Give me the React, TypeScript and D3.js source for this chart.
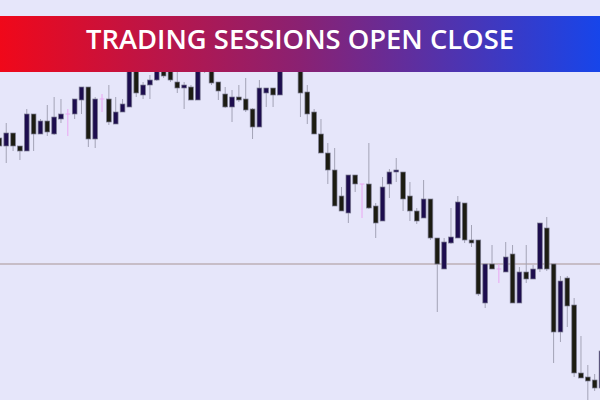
import { useEffect, useRef } from 'react'
import * as d3 from 'd3'

// OHLC values in price points
const opens = [262, 254, 267, 254, 249, 286, 266, 279, 266, 281, 286, 286, 300, 313, 261, 301, 301, 276, 288, 293,
  340, 305, 315, 320, 335, 332, 318, 312, 313, 300, 338, 338, 318, 306, 293, 303, 301, 291, 273, 307,
  312, 305, 340, 356, 338, 308, 288, 266, 247, 230, 204, 187, 225, 216, 216, 194, 179, 216, 228, 228,
  204, 189, 182, 201, 162, 131, 157, 162, 197, 160, 160, 97, 136, 131, 128, 146, 97, 128, 121, 131,
  172, 136, 68, 122, 95, 27, 23, 20, 12]
const highs = [263, 277, 267, 254, 291, 286, 281, 295, 303, 301, 291, 301, 313, 313, 303, 306, 315, 303, 301, 345,
  345, 318, 325, 340, 340, 338, 328, 318, 315, 345, 355, 342, 318, 313, 310, 315, 322, 292, 320, 312,
  312, 345, 358, 362, 345, 315, 291, 281, 257, 252, 213, 225, 225, 216, 257, 197, 223, 231, 242, 228,
  218, 192, 220, 201, 162, 162, 192, 204, 197, 175, 160, 136, 155, 136, 158, 155, 133, 155, 135, 177,
  183, 136, 124, 124, 102, 64, 35, 26, 55]
const lows = [253, 237, 249, 240, 249, 249, 266, 264, 265, 277, 264, 281, 286, 253, 252, 288, 275, 276, 288, 293,
  303, 301, 301, 319, 322, 318, 307, 291, 300, 300, 327, 315, 300, 292, 278, 298, 288, 261, 273, 293,
  293, 305, 334, 336, 283, 276, 266, 247, 216, 194, 189, 177, 208, 182, 191, 162, 179, 202, 218, 189,
  179, 176, 182, 160, 88, 131, 156, 162, 157, 153, 104, 92, 131, 117, 128, 97, 97, 117, 121, 128,
  129, 37, 58, 73, 23, 22, -4, 9, 10]
const closes = [254, 267, 254, 249, 286, 266, 279, 268, 283, 286, 286, 301, 313, 261, 301, 301, 278, 288, 296, 338,
  307, 315, 320, 334, 324, 320, 312, 315, 300, 340, 350, 317, 309, 293, 303, 300, 290, 273, 312, 312,
  305, 340, 352, 342, 307, 286, 266, 247, 230, 194, 189, 225, 216, 216, 192, 177, 213, 228, 230, 201,
  189, 179, 201, 162, 136, 158, 163, 198, 160, 157, 106, 136, 131, 131, 143, 97, 128, 121, 131, 177,
  131, 68, 119, 94, 27, 22, 19, 12, 49]
const levelPrice = 136
const title = 'TRADING SESSIONS OPEN CLOSE'

export default function App() {
  const svgRef = useRef<SVGSVGElement>(null)

  useEffect(() => {
    if (!svgRef.current) return
    const width = 600
    const height = 400

    const svg = d3.select(svgRef.current)
    svg.selectAll('*').remove()
    svg.attr('width', width).attr('height', height)

    svg.append('rect')
      .attr('width', width)
      .attr('height', height)
      .attr('fill', '#e6e6fa')

    const x = d3.scaleLinear().domain([0, opens.length - 1]).range([-0.6, 601.5])
    const y = d3.scaleLinear().domain([0, 400]).range([400, 0])
    const bodyW = 4.7

    // horizontal level line
    svg.append('line')
      .attr('x1', 0).attr('x2', width)
      .attr('y1', y(levelPrice)).attr('y2', y(levelPrice))
      .attr('stroke', '#a89494')
      .attr('stroke-width', 1)

    const g = svg.append('g')
    opens.forEach((o, i) => {
      const c = closes[i]
      const cx = x(i)
      const doji = o === c
      const bull = c > o

      g.append('line')
        .attr('x1', cx).attr('x2', cx)
        .attr('y1', y(highs[i])).attr('y2', y(lows[i]))
        .attr('stroke', doji ? '#eaa6f2' : '#a3a3b6')
        .attr('stroke-width', 1)

      if (doji) {
        g.append('line')
          .attr('x1', cx - bodyW / 2).attr('x2', cx + bodyW / 2)
          .attr('y1', y(o)).attr('y2', y(o))
          .attr('stroke', '#eaa6f2')
          .attr('stroke-width', 1)
        return
      }

      g.append('rect')
        .attr('x', cx - bodyW / 2)
        .attr('y', y(Math.max(o, c)))
        .attr('width', bodyW)
        .attr('height', Math.abs(y(o) - y(c)))
        .attr('fill', bull ? '#1d0d4e' : '#1c1c12')
        .attr('stroke', '#7c7c92')
        .attr('stroke-width', 0.7)
    })

    // title banner
    const defs = svg.append('defs')
    const grad = defs.append('linearGradient')
      .attr('id', 'bannerGrad')
      .attr('x1', '0%').attr('x2', '100%')
    grad.append('stop').attr('offset', '0%').attr('stop-color', '#f0081a')
    grad.append('stop').attr('offset', '50%').attr('stop-color', '#8a2172')
    grad.append('stop').attr('offset', '100%').attr('stop-color', '#1745ea')

    svg.append('rect')
      .attr('x', 0).attr('y', 16)
      .attr('width', width).attr('height', 56)
      .attr('fill', 'url(#bannerGrad)')

    svg.append('text')
      .text(title)
      .attr('x', width / 2)
      .attr('y', 49)
      .attr('text-anchor', 'middle')
      .attr('fill', '#fff')
      .attr('font-family', '"Open Sans", sans-serif')
      .attr('font-size', '26.5px')
      .attr('font-weight', 600)
      .attr('textLength', 428)
      .attr('lengthAdjust', 'spacingAndGlyphs')
  }, [])

  return (
    <svg ref={svgRef} style={{ position: 'absolute', left: 0, top: 0, display: 'block' }}></svg>
  )
}
